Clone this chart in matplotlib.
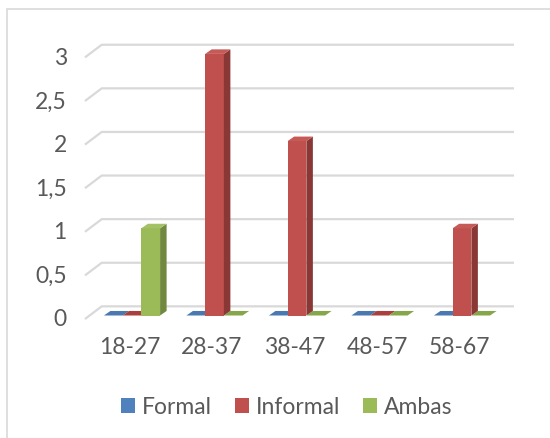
import matplotlib
matplotlib.use("Agg")
import matplotlib.pyplot as plt
from matplotlib.patches import Polygon, Rectangle

# Data
categories = ["18-27", "28-37", "38-47", "48-57", "58-67"]
series_names = ["Formal", "Informal", "Ambas"]
formal = [0, 0, 0, 0, 0]
informal = [0, 3, 2, 0, 1]
ambas = [1, 0, 0, 0, 0]
y_ticks = [0, 0.5, 1, 1.5, 2, 2.5, 3]
y_tick_labels = ["0", "0,5", "1", "1,5", "2", "2,5", "3"]

front_colors = ["#4F81BD", "#C0504D", "#9BBB59"]
side_colors = ["#385D8A", "#8A3836", "#71893F"]
top_colors = ["#5A8AC4", "#C65A57", "#A3C265"]
flat_colors = ["#4A78B0", "#A9403D", "#86A64A"]
text_color = "#595959"
grid_color = "#D9D9D9"
fs = 16.5

plt.rcParams["font.family"] = ["Lato", "DejaVu Sans"]

fig = plt.figure(figsize=(5.5, 4.39), dpi=100)
ax = fig.add_axes([0, 0, 1, 1])
ax.set_xlim(-1.6, 5.0667)
ax.set_ylim(-1.4048, 3.6296)
ax.axis("off")

# chart frame
fig.patches.append(Rectangle((7 / 550, -0.1), 1.2, (439 - 10) / 439 + 0.1,
                             transform=fig.transFigure, fill=False,
                             edgecolor="#D9D9D9", linewidth=1.2))

# depth geometry (data units)
wall_dy = 0.105
side_dx, side_dy = 0.203, 0.145
bar_w = 0.227
dep_x, dep_y = 0.079, 0.052
x_left = -0.57
x_right = 4.63

# gridlines on the back wall with a diagonal side-wall segment
for v, lab in zip(y_ticks, y_tick_labels):
    yb = v + wall_dy
    ax.plot([x_left, x_left + side_dx, x_right], [yb - side_dy, yb, yb],
            color=grid_color, linewidth=1.6, solid_capstyle="butt", zorder=1)
    ax.text(-0.79, yb - side_dy, lab, ha="right", va="center",
            fontsize=fs, color=text_color)

all_series = [formal, informal, ambas]
for s, vals in enumerate(all_series):
    offset = (s - 1) * bar_w
    for i, v in enumerate(vals):
        x0 = i + offset - bar_w / 2
        x1 = x0 + bar_w
        if v > 0:
            ax.bar(x0, v, width=bar_w, align="edge", color=front_colors[s],
                   edgecolor="none", zorder=3)
            ax.add_patch(Polygon([(x1, 0), (x1 + dep_x, dep_y),
                                  (x1 + dep_x, v + dep_y), (x1, v)],
                                 closed=True, facecolor=side_colors[s],
                                 edgecolor="none", zorder=3))
            ax.add_patch(Polygon([(x0, v), (x1, v), (x1 + dep_x, v + dep_y),
                                  (x0 + dep_x, v + dep_y)], closed=True,
                                 facecolor=top_colors[s], edgecolor="none",
                                 zorder=3))
        else:
            ax.add_patch(Polygon([(x0, v), (x1, v), (x1 + dep_x, v + dep_y),
                                  (x0 + dep_x, v + dep_y)], closed=True,
                                 facecolor=flat_colors[s], edgecolor="none",
                                 zorder=2))

for i, c in enumerate(categories):
    ax.text(i - 0.03, -0.36, c, ha="center", va="center",
            fontsize=fs, color=text_color)

# legend
leg_handles = [Rectangle((0, 0), 1, 1, facecolor=front_colors[s], edgecolor="none")
               for s in range(3)]
fig.legend(leg_handles, series_names, loc="center", bbox_to_anchor=(0.521, 1 - 408 / 439),
           ncol=3, frameon=False, fontsize=fs, labelcolor=text_color,
           handlelength=0.62, handleheight=0.62, handletextpad=0.3,
           columnspacing=1.0)

fig.savefig("out.png", dpi=100)
